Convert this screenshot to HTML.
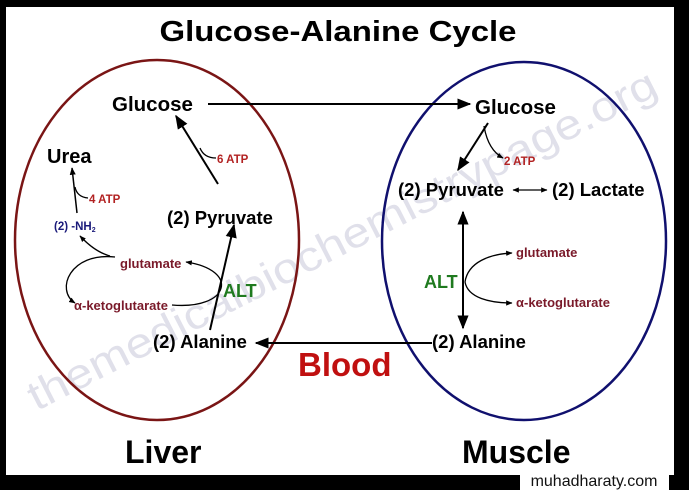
<!DOCTYPE html>
<html><head><meta charset="utf-8"><style>
html,body{margin:0;padding:0;background:#000;}
svg{display:block;}
text{font-family:"Liberation Sans",Arial,sans-serif;font-weight:bold;}
</style></head><body>
<svg width="689" height="490" viewBox="0 0 689 490" xmlns="http://www.w3.org/2000/svg">
<defs>
<marker id="a" viewBox="0 0 10 10" refX="9" refY="5" markerWidth="7" markerHeight="7" orient="auto-start-reverse"><path d="M0,1 L10,5 L0,9 z" fill="#000"/></marker>
<marker id="s" viewBox="0 0 10 10" refX="9" refY="5" markerWidth="5" markerHeight="5" orient="auto-start-reverse"><path d="M0,1 L10,5 L0,9 z" fill="#000"/></marker>
</defs>
<rect x="0" y="0" width="689" height="490" fill="#000"/>
<rect x="6" y="7" width="668" height="468" fill="#fff"/>
<rect x="520" y="471" width="149" height="19" fill="#fff"/>
<text x="594" y="486" font-size="16" text-anchor="middle" fill="#111" style="font-weight:normal">muhadharaty.com</text>

<text x="342" y="254" font-size="42" fill="#e0e0ea" text-anchor="middle" transform="rotate(-27 342 240)" textLength="700" lengthAdjust="spacingAndGlyphs" style="font-weight:normal">themedicalbiochemistrypage.org</text>

<text x="338" y="41" font-size="29" text-anchor="middle" textLength="357" lengthAdjust="spacingAndGlyphs">Glucose-Alanine Cycle</text>

<ellipse cx="157" cy="240" rx="142" ry="180" fill="none" stroke="#7a1515" stroke-width="2.5"/>
<ellipse cx="524" cy="241" rx="142" ry="179" fill="none" stroke="#10106e" stroke-width="2.5"/>

<!-- Liver -->
<text x="112" y="111" font-size="20.5">Glucose</text>
<line x1="208" y1="104" x2="470" y2="104" stroke="#000" stroke-width="2" marker-end="url(#a)"/>
<text x="47" y="163" font-size="20">Urea</text>
<line x1="218" y1="184" x2="176" y2="116" stroke="#000" stroke-width="2" marker-end="url(#a)"/>
<path d="M200,148 Q204,158 216,158" fill="none" stroke="#000" stroke-width="1.3"/>
<text x="217" y="163" font-size="11.5" fill="#b22222">6 ATP</text>
<text x="167" y="224" font-size="18.5">(2) Pyruvate</text>
<path d="M77,213 L72,168" fill="none" stroke="#000" stroke-width="1.5" marker-end="url(#s)"/>
<path d="M75,187 Q77,197 88,198" fill="none" stroke="#000" stroke-width="1.3"/>
<text x="89" y="203" font-size="11.5" fill="#b22222">4 ATP</text>
<text x="54" y="230" font-size="11.5" fill="#1a1a7a">(2) -NH<tspan font-size="7" dy="2">2</tspan></text>
<path d="M110,256 Q95,252 80,236" fill="none" stroke="#000" stroke-width="1.3" marker-end="url(#s)"/>
<text x="120" y="268" font-size="13" fill="#7a1a2a">glutamate</text>
<path d="M115,257 C70,252 55,290 75,303" fill="none" stroke="#000" stroke-width="1.3" marker-end="url(#s)"/>
<text x="74" y="310" font-size="13" fill="#7a1a2a">α-ketoglutarate</text>
<path d="M172,305 C230,310 240,270 186,262" fill="none" stroke="#000" stroke-width="1.3" marker-end="url(#s)"/>
<text x="223" y="297" font-size="18" fill="#1f7a1f">ALT</text>
<line x1="210" y1="330" x2="234" y2="225" stroke="#000" stroke-width="2" marker-end="url(#a)"/>
<text x="153" y="348" font-size="18.5">(2) Alanine</text>
<line x1="432" y1="343" x2="256" y2="343" stroke="#000" stroke-width="2" marker-end="url(#a)"/>
<text x="298" y="376" font-size="33" fill="#c01010">Blood</text>
<text x="125" y="463" font-size="32">Liver</text>

<!-- Muscle -->
<text x="475" y="114" font-size="20.5">Glucose</text>
<line x1="488" y1="123" x2="458" y2="170" stroke="#000" stroke-width="2" marker-end="url(#a)"/>
<path d="M484,126 Q488,150 503,158" fill="none" stroke="#000" stroke-width="1.3" marker-end="url(#s)"/>
<text x="504" y="165" font-size="11.5" fill="#b22222">2 ATP</text>
<text x="398" y="196" font-size="18.5">(2) Pyruvate</text>
<line x1="513" y1="190" x2="547" y2="190" stroke="#000" stroke-width="1.3" marker-start="url(#s)" marker-end="url(#s)"/>
<text x="552" y="196" font-size="18.5">(2) Lactate</text>
<line x1="463" y1="212" x2="463" y2="328" stroke="#000" stroke-width="2" marker-start="url(#a)" marker-end="url(#a)"/>
<path d="M465,282 C468,262 490,254 512,253" fill="none" stroke="#000" stroke-width="1.3" marker-end="url(#s)"/>
<path d="M465,282 C468,298 490,303 512,303" fill="none" stroke="#000" stroke-width="1.3" marker-end="url(#s)"/>
<text x="424" y="288" font-size="18" fill="#1f7a1f">ALT</text>
<text x="516" y="257" font-size="13" fill="#7a1a2a">glutamate</text>
<text x="516" y="307" font-size="13" fill="#7a1a2a">α-ketoglutarate</text>
<text x="432" y="348" font-size="18.5">(2) Alanine</text>
<text x="462" y="463" font-size="32">Muscle</text>
</svg>
</body></html>
